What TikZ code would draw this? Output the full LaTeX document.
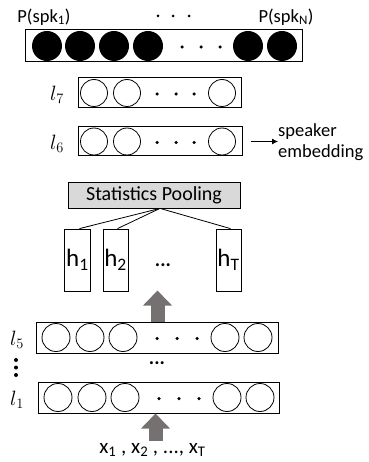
\documentclass[tikz,border=0pt]{standalone}
\usepackage{fontspec}
\setmainfont{Carlito}
\usetikzlibrary{arrows.meta}
\definecolor{arrowgray}{RGB}{118,113,113}
\definecolor{poolgray}{RGB}{217,217,217}
\begin{document}
\begin{tikzpicture}[x=1pt, y=-1pt,
  layer/.style={draw, line width=1pt, rectangle, inner sep=0pt},
  unit/.style={circle, draw, line width=0.8pt, inner sep=0pt, minimum size=#1},
  unit/.default=27pt,
  outunit/.style={circle, fill=black, inner sep=0pt, minimum size=30pt},
  dot/.style={circle, fill=black, inner sep=0pt, minimum size=#1},
  dot/.default=3.5pt,
  hbox/.style={draw, line width=0.8pt, inner sep=0pt, minimum width=26pt, minimum height=62pt,
    font=\fontsize{25}{27}\selectfont},
  lname/.style={font=\fontsize{22}{24}\selectfont, inner sep=0pt},
  txt/.style={font=\fontsize{18.5}{21}\selectfont, inner sep=0pt},
  bigarrow/.style={arrowgray, line width=14pt, -{Triangle[width=28pt, length=15pt]}}
]
\useasboundingbox (0,0) rectangle (368,462);

% output layer
\node[txt] (p1) at (44,17) {P(spk\textsubscript{1})};
\node[txt] (pN) at (286,17) {P(spk\textsubscript{N})};
\foreach \x [count=\i] in {158,173,189}
  \node[dot=3pt] (pd\i) at (\x,16) {};
\node[layer, minimum width=277pt, minimum height=32pt] (out) at (163.5,46) {};
\foreach \x [count=\i] in {47,80,114,148,248,282}
  \node[outunit] (o\i) at (\x,46) {};
\foreach \x [count=\i] in {182,201,220}
  \node[dot] (od\i) at (\x,47) {};

% l7 and l6
\node[layer, minimum width=163pt, minimum height=30pt] (l7) at (159.5,93) {};
\node[lname] (n7) at (57,95) {$l_7$};
\foreach \x [count=\i] in {94,127,222}
  \node[unit] (a\i) at (\x,93) {};
\foreach \x [count=\i] in {157,176,194}
  \node[dot] (ad\i) at (\x,94) {};

\node[layer, minimum width=164pt, minimum height=29pt] (l6) at (160,141.5) {};
\node[lname] (n6) at (57,144) {$l_6$};
\foreach \x [count=\i] in {94,127,222}
  \node[unit] (b\i) at (\x,141.5) {};
\foreach \x [count=\i] in {157,176,194}
  \node[dot] (bd\i) at (\x,142.5) {};
\node[txt, align=left, anchor=west] (emb) at (278,142.5) {speaker\\embedding};
\draw[line width=0.8pt, -{Latex[length=6pt, width=6pt]}] (l6.east) ++(8,0) coordinate (e0) (e0) -- (emb.west |- e0);

% pooling
\node[layer, fill=poolgray, line width=0.8pt, minimum width=172pt, minimum height=26pt,
  font=\fontsize{20}{22}\selectfont] (pool) at (154,195) {Statistics Pooling};
\node[hbox] (h1) at (77.5,260) {h\textsubscript{1}};
\node[hbox, minimum width=25pt] (h2) at (115.5,260) {h\textsubscript{2}};
\node[hbox, minimum width=25pt] (hT) at (228.5,260) {h\textsubscript{T}};
\node[font=\fontsize{20}{22}\selectfont\bfseries, inner sep=0pt] (hdots) at (163,265) {...};
\coordinate (pc) at ([xshift=6pt]pool.south);
\foreach \h in {h1,h2,hT}
  \draw[line width=0.8pt] (pc) -- ([xshift=2pt]\h.north);

% frame layers
\node[layer, minimum width=242pt, minimum height=31pt] (l5) at (157,337.5) {};
\node[lname] (n5) at (17,340) {$l_5$};
\foreach \x [count=\i] in {56,90,123,225,258}
  \node[unit=28pt] (c\i) at (\x,337.5) {};
\foreach \x [count=\i] in {157,177,197}
  \node[dot] (cd\i) at (\x,338.5) {};

\node[font=\fontsize{20}{22}\selectfont\bfseries, inner sep=0pt] (mdots) at (157,363) {...};
\foreach \y [count=\i] in {360,367.5,375}
  \node[dot=4pt] (vd\i) at (16,\y) {};

\node[layer, minimum width=241pt, minimum height=31pt] (l1) at (158.5,397.5) {};
\node[lname] (n1) at (17,400) {$l_1$};
\foreach \x [count=\i] in {58,92,125,227,260}
  \node[unit=28pt] (d\i) at (\x,397.5) {};
\foreach \x [count=\i] in {159,179,199}
  \node[dot] (dd\i) at (\x,398.5) {};

% input and big arrows
\node[font=\fontsize{21}{23}\selectfont, inner sep=0pt] (xin) at (152.5,450)
  {x\textsubscript{1} , x\textsubscript{2} , ..., x\textsubscript{T}};
\coordinate (hb) at (157.5,290.5);
\draw[bigarrow] (l5.north -| hb) -- (hb);
\coordinate (xb) at (155.5,441);
\draw[bigarrow] (xb) -- (l1.south -| xb);
\end{tikzpicture}
\end{document}
